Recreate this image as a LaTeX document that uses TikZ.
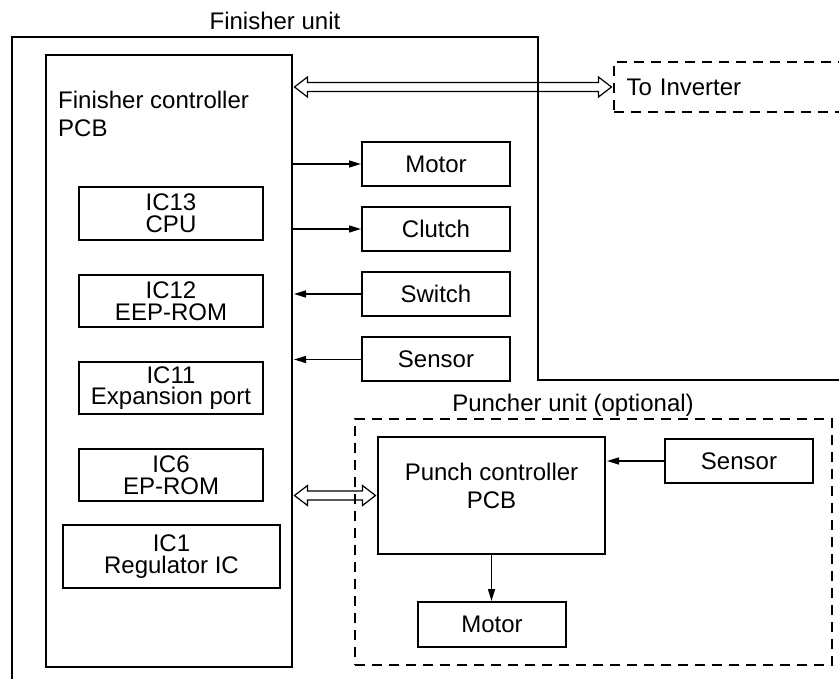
\documentclass[tikz,border=0pt]{standalone}
\usepackage{fontspec}
\setmainfont{Liberation Sans}
\usetikzlibrary{arrows.meta,calc}
\newcommand{\hollowdbl}[2]{%
  \draw[dblarrow] (#1) -- ++(13,-10) -- ++(0,5.5) -- ($(#2)+(-13,-4.5)$) -- ++(0,-5.5) -- (#2)
    -- ++(-13,10) -- ++(0,-5.5) -- ($(#1)+(13,4.5)$) -- ++(0,5.5) -- cycle;}
\begin{document}
\begin{tikzpicture}[x=1pt,y=-1pt,
  every node/.style={font=\fontsize{24}{28.3}\selectfont, inner sep=0pt},
  thickbox/.style={draw, line width=2pt, minimum width=148pt, minimum height=44pt},
  icbox/.style={draw, line width=1.2pt, align=center, minimum width=184pt, minimum height=52pt, font=\fontsize{24}{21.7}\selectfont},
  sig/.style={line width=1.5pt, -{Triangle[length=12pt,width=7pt]}},
  dblarrow/.style={line width=1.2pt, line join=miter},
  dashedbox/.style={draw, line width=2pt, dash pattern=on 10pt off 7pt}]
\useasboundingbox (0,0) rectangle (839,679);

% Finisher unit frame
\node[anchor=base] (ftitle) at (275,30) {Finisher unit};
\draw[line width=1.3pt] (12,690) -- (12,37) -- (538,37) -- (538,380) -- (850,380);

% Finisher controller PCB
\node[draw, line width=2pt, minimum width=246pt, minimum height=612pt] (pcb) at (169,361) {};
\node[anchor=north west, align=left] (pcbtxt) at (58,91) {Finisher controller\\PCB};

\node[icbox, minimum height=53pt] (ic13) at (171,213.5) {IC13\\CPU};
\node[icbox] (ic12) at (171,301) {IC12\\EEP-ROM};
\node[icbox] (ic11) at (171,388) {IC11\\Expansion port};
\node[icbox] (ic6) at (171,475) {IC6\\EP-ROM};
\node[icbox, minimum width=217pt, minimum height=63pt] (ic1) at (171.5,556.5) {IC1\\Regulator IC};

% I/O boxes
\node[thickbox] (motor) at (436,164) {Motor};
\node[thickbox] (clutch) at (436,229) {Clutch};
\node[thickbox] (switch) at (436,294) {Switch};
\node[thickbox] (sensor) at (436,359.5) {Sensor};

\draw[sig] (pcb.east |- motor.west) -- (motor.west);
\draw[sig] (pcb.east |- clutch.west) -- (clutch.west);
\draw[sig] (switch.west) -- ($(pcb.east |- switch.west)+(1,0)$);
\draw[sig] (sensor.west) -- ($(pcb.east |- sensor.west)+(1,0)$);

% To Inverter
\node[dashedbox, anchor=west, minimum height=50pt, text width=220pt, inner xsep=12.5pt, align=left] (inv) at (613,87) {To Inverter};
\coordinate (da1) at ($(pcb.east |- inv.west)+(1.5,0)$);
\coordinate (da2) at ($(inv.west)+(-1.5,0)$);
\hollowdbl{da1}{da2}

% Puncher unit
\node[anchor=base] (ptitle) at (573,411) {Puncher unit (optional)};
\node[dashedbox, minimum width=477pt, minimum height=246pt] (punit) at (593.5,542) {};
\node[draw, line width=2pt, minimum width=227pt, minimum height=117pt, align=center, text depth=20pt] (ppcb) at (491.5,495.5) {Punch controller\\PCB};
\node[thickbox] (psensor) at (739,461) {Sensor};
\node[thickbox, minimum height=45pt] (pmotor) at (492,624.5) {Motor};

\draw[sig] (psensor.west) -- ($(ppcb.east |- psensor.west)+(1,0)$);
\draw[sig] (ppcb.south) -- (ppcb.south |- pmotor.north);

\coordinate (db1) at ($(pcb.east |- ppcb.west)+(1.5,0)$);
\coordinate (db2) at ($(ppcb.west)+(-1.5,0)$);
\hollowdbl{db1}{db2}
\end{tikzpicture}
\end{document}
